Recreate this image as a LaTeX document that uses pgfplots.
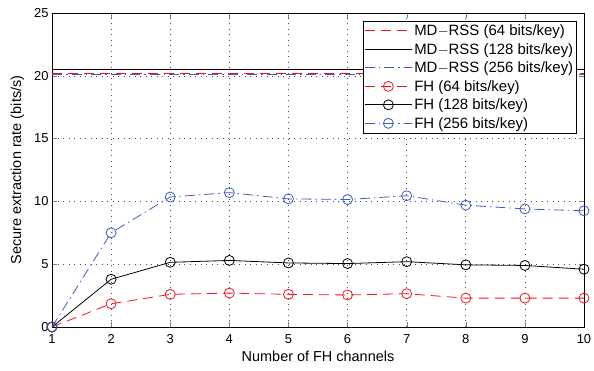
\documentclass[border=0pt]{standalone}
\usepackage{fontspec}
\setmainfont{Liberation Sans}
\usepackage{pgfplots}
\pgfplotsset{compat=1.18}
\definecolor{mred}{RGB}{245,20,30}
\definecolor{mblue}{RGB}{60,90,200}
\begin{document}
\begin{tikzpicture}
\begin{axis}[
  scale only axis,
  width=532bp, height=314bp,
  xmin=1, xmax=10, ymin=0, ymax=25,
  xtick={1,...,10}, ytick={0,5,...,25},
  tick align=inside,
  major tick length=5bp,
  grid=major,
  major grid style={black!70, dash pattern=on 1bp off 4.5bp, line width=0.6pt},
  axis line style={black, line width=0.7pt},
  /pgf/number format/assume math mode=true,
  tick label style={font=\fontsize{13}{15}\selectfont},
  xticklabel style={yshift=-4bp},
  label style={font=\fontsize{14.5}{17}\selectfont},
  xlabel={Number of FH channels},
  ylabel={Secure extraction rate (bits/s)},
  xlabel style={yshift=-1bp},
  ylabel style={yshift=3bp},
  legend style={at={(rel axis cs:0.987,0.975)}, anchor=north east,
    font=\fontsize{15}{17}\selectfont, draw=black, line width=0.7pt,
    inner sep=1.5pt, row sep=2.2pt, cells={anchor=west}},
  legend cell align=left,
  legend image code/.code={\draw[mark repeat=2,mark phase=2,#1] plot coordinates {(0bp,0bp) (23.5bp,0bp) (47bp,0bp)};},
  every axis plot/.append style={line width=0.8pt},
]
\coordinate (o) at (rel axis cs:0,0);
\addplot[mred, dash pattern=on 10bp off 6bp, no marks] coordinates {(1,20.2) (10,20.2)};
\addlegendentry{MD$-$RSS (64 bits/key)}
\addplot[black, solid, no marks] coordinates {(1,20.5) (10,20.5)};
\addlegendentry{MD$-$RSS (128 bits/key)}
\addplot[mblue, dash pattern=on 10bp off 4bp on 1.5bp off 4bp, no marks] coordinates {(1,20.12) (10,20.12)};
\addlegendentry{MD$-$RSS (256 bits/key)}
\addplot[mred, dash pattern=on 10bp off 6bp, mark=o, mark size=5bp, mark options={solid}] coordinates {
(1,0) (2,1.85) (3,2.6) (4,2.7) (5,2.6) (6,2.55) (7,2.65) (8,2.3) (9,2.3) (10,2.3)};
\addlegendentry{FH (64 bits/key)}
\addplot[black, solid, mark=o, mark size=5bp] coordinates {
(1,0) (2,3.8) (3,5.15) (4,5.3) (5,5.1) (6,5.05) (7,5.2) (8,4.95) (9,4.9) (10,4.6)};
\addlegendentry{FH (128 bits/key)}
\addplot[mblue, dash pattern=on 10bp off 4bp on 1.5bp off 4bp, mark=o, mark size=5bp, mark options={solid}] coordinates {
(1,0) (2,7.5) (3,10.35) (4,10.7) (5,10.2) (6,10.15) (7,10.45) (8,9.7) (9,9.4) (10,9.25)};
\addlegendentry{FH (256 bits/key)}
\end{axis}
\pgfresetboundingbox
\useasboundingbox (o) ++(-52bp,-44bp) rectangle ++(594bp,371bp);
\end{tikzpicture}
\end{document}
